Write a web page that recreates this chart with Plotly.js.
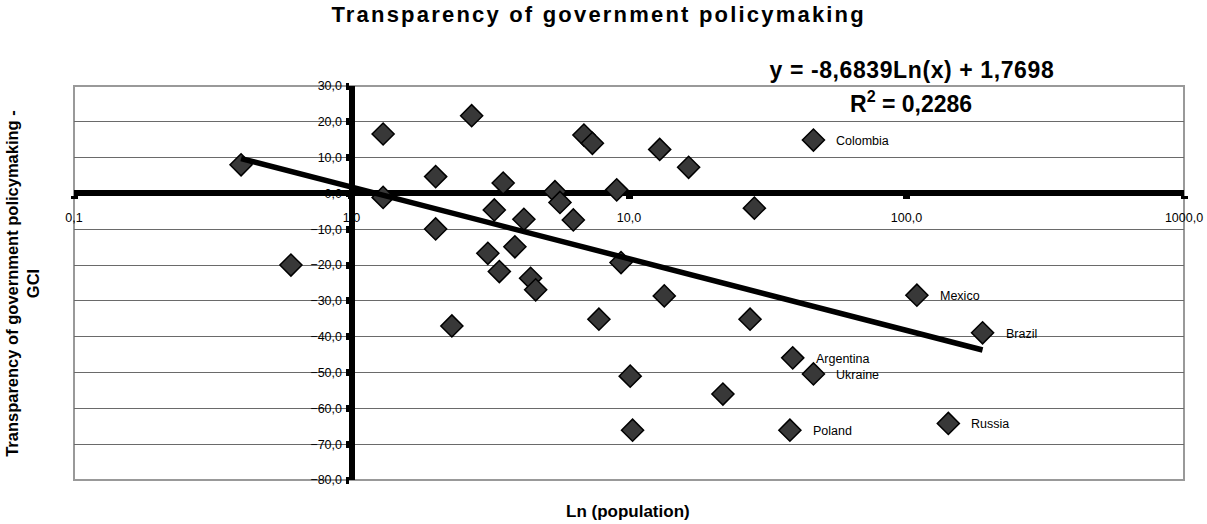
<!DOCTYPE html>
<html>
<head>
<meta charset="utf-8">
<script src="https://cdn.plot.ly/plotly-3.0.1.min.js"></script>
<style>
html,body{margin:0;padding:0;background:#fff;}
#chart{width:1207px;height:524px;}
.gtitle{letter-spacing:2.2px;}
g.annotation[data-index="0"] text{letter-spacing:0.6px;}
</style>
</head>
<body>
<div id="chart"></div>
<script>
// Population (millions) and GCI transparency score
const population = [0.40, 0.605, 1.30, 1.30, 2.01, 2.01, 2.71, 3.52, 3.27, 4.18,
  3.10, 3.88, 3.41, 4.42, 4.61, 5.41, 5.64, 6.30, 6.88, 7.38,
  9.03, 9.36, 12.9, 16.4, 28.3, 46.2, 13.4, 2.30, 7.79, 27.3,
  38.9, 46.2, 10.1, 21.8, 10.3, 38.0, 109, 188, 141.5];
const transparency = [8.0, -20.0, 16.6, -1.1, 4.7, -9.9, 21.7, 2.9, -4.6, -7.2,
  -16.7, -14.9, -21.8, -23.7, -26.9, 0.5, -2.5, -7.4, 16.3, 14.0,
  1.0, -19.3, 12.3, 7.3, -4.1, 14.9, -28.6, -37.0, -35.1, -35.1,
  -45.9, -50.4, -51.0, -56.0, -66.1, -66.1, -28.4, -38.9, -64.2];
const countryLabels = ["", "", "", "", "", "", "", "", "", "",
  "", "", "", "", "", "", "", "", "", "",
  "", "", "", "", "", "Colombia", "", "", "", "",
  "Argentina", "Ukraine", "", "", "", "Poland", "Mexico", "Brazil", "Russia"];
const trendCoef = [-8.6839, 1.7698]; // y = a*ln(x) + b
const xTickVals = [0.1, 1, 10, 100, 1000];
const xTickText = ["0,1", "1,0", "10,0", "100,0", "1000,0"];

const xMin = Math.min(...population), xMax = Math.max(...population);
const trendX = [xMin, xMax];
const trendY = trendX.map(v => trendCoef[0] * Math.log(v) + trendCoef[1]);

const font = "Liberation Sans, Arial, sans-serif";

const traces = [
  {
    type: 'scatter', mode: 'markers', x: population, y: transparency,
    marker: {symbol: 'diamond', size: 17, color: '#383838', line: {color: '#000', width: 1.5}},
    hoverinfo: 'x+y', showlegend: false
  },
  {
    type: 'scatter', mode: 'lines', x: trendX, y: trendY,
    line: {color: '#000', width: 5.5}, showlegend: false, hoverinfo: 'skip'
  }
];

const annotations = [
  {xref: 'paper', yref: 'paper', x: 0.755, y: 1.040, xanchor: 'center', yanchor: 'middle',
   text: 'y = -8,6839Ln(x) + 1,7698', showarrow: false,
   font: {family: font, size: 23, color: '#000', weight: 'bold'}},
  {xref: 'paper', yref: 'paper', x: 0.754, y: 0.960, xanchor: 'center', yanchor: 'middle',
   text: 'R<sup>2</sup> = 0,2286', showarrow: false,
   font: {family: font, size: 23, color: '#000', weight: 'bold'}},
  {xref: 'paper', yref: 'paper', x: 0.499, y: -0.081, xanchor: 'center', yanchor: 'middle',
   text: 'Ln (population)', showarrow: false,
   font: {family: font, size: 17, color: '#000', weight: 'bold'}},
  {xref: 'paper', yref: 'paper', x: -0.047, y: 0.5, xanchor: 'center', yanchor: 'middle',
   text: 'Transparency of government policymaking -<br>GCI', showarrow: false, textangle: -90,
   font: {family: font, size: 16.5, color: '#000', weight: 'bold'}}
];
population.forEach((p, i) => {
  if (countryLabels[i]) {
    annotations.push({
      xref: 'x', yref: 'y', x: Math.log10(p), y: transparency[i],
      xanchor: 'left', yanchor: 'middle', xshift: 21, yshift: -1,
      text: countryLabels[i], showarrow: false,
      font: {family: font, size: 12.5, color: '#000'}
    });
  }
});

const layout = {
  width: 1207, height: 524,
  margin: {l: 74, r: 23, t: 86, b: 44},
  paper_bgcolor: '#fff', plot_bgcolor: '#fff',
  separators: ', ',
  title: {text: 'Transparency of government policymaking', xref: 'container', yref: 'container',
          x: 0.496, y: 0.972, xanchor: 'center', yanchor: 'middle',
          font: {family: font, size: 22, color: '#000', weight: 'bold'}},
  xaxis: {
    type: 'log', range: [-1, 3], domain: [0, 1],
    anchor: 'free', position: 80 / 110,
    showline: true, linecolor: '#000', linewidth: 6,
    showgrid: false, zeroline: false,
    tickmode: 'array', tickvals: xTickVals, ticktext: xTickText,
    ticks: 'outside', ticklen: 3, tickwidth: 7, tickcolor: '#000',
    ticklabelstandoff: 8,
    tickfont: {family: font, size: 12.5, color: '#000'},
    layer: 'below traces', fixedrange: true
  },
  yaxis: {
    range: [-80, 30], dtick: 10, tick0: 0, tickformat: '.1f',
    anchor: 'free', position: 0.25,
    showline: true, linecolor: '#000', linewidth: 6,
    showgrid: true, gridcolor: '#6a6a6a', gridwidth: 1, zeroline: false,
    ticks: 'outside', ticklen: 3, tickwidth: 7, tickcolor: '#000',
    ticklabelstandoff: 1,
    tickfont: {family: font, size: 12.5, color: '#000'},
    layer: 'below traces', fixedrange: true
  },
  shapes: [
    {type: 'rect', xref: 'paper', yref: 'paper', x0: 0, x1: 1, y0: 0, y1: 1,
     line: {color: '#999', width: 2}, layer: 'below'}
  ],
  annotations: annotations,
  showlegend: false
};

Plotly.newPlot('chart', traces, layout, {displayModeBar: false, staticPlot: true});
</script>
</body>
</html>
